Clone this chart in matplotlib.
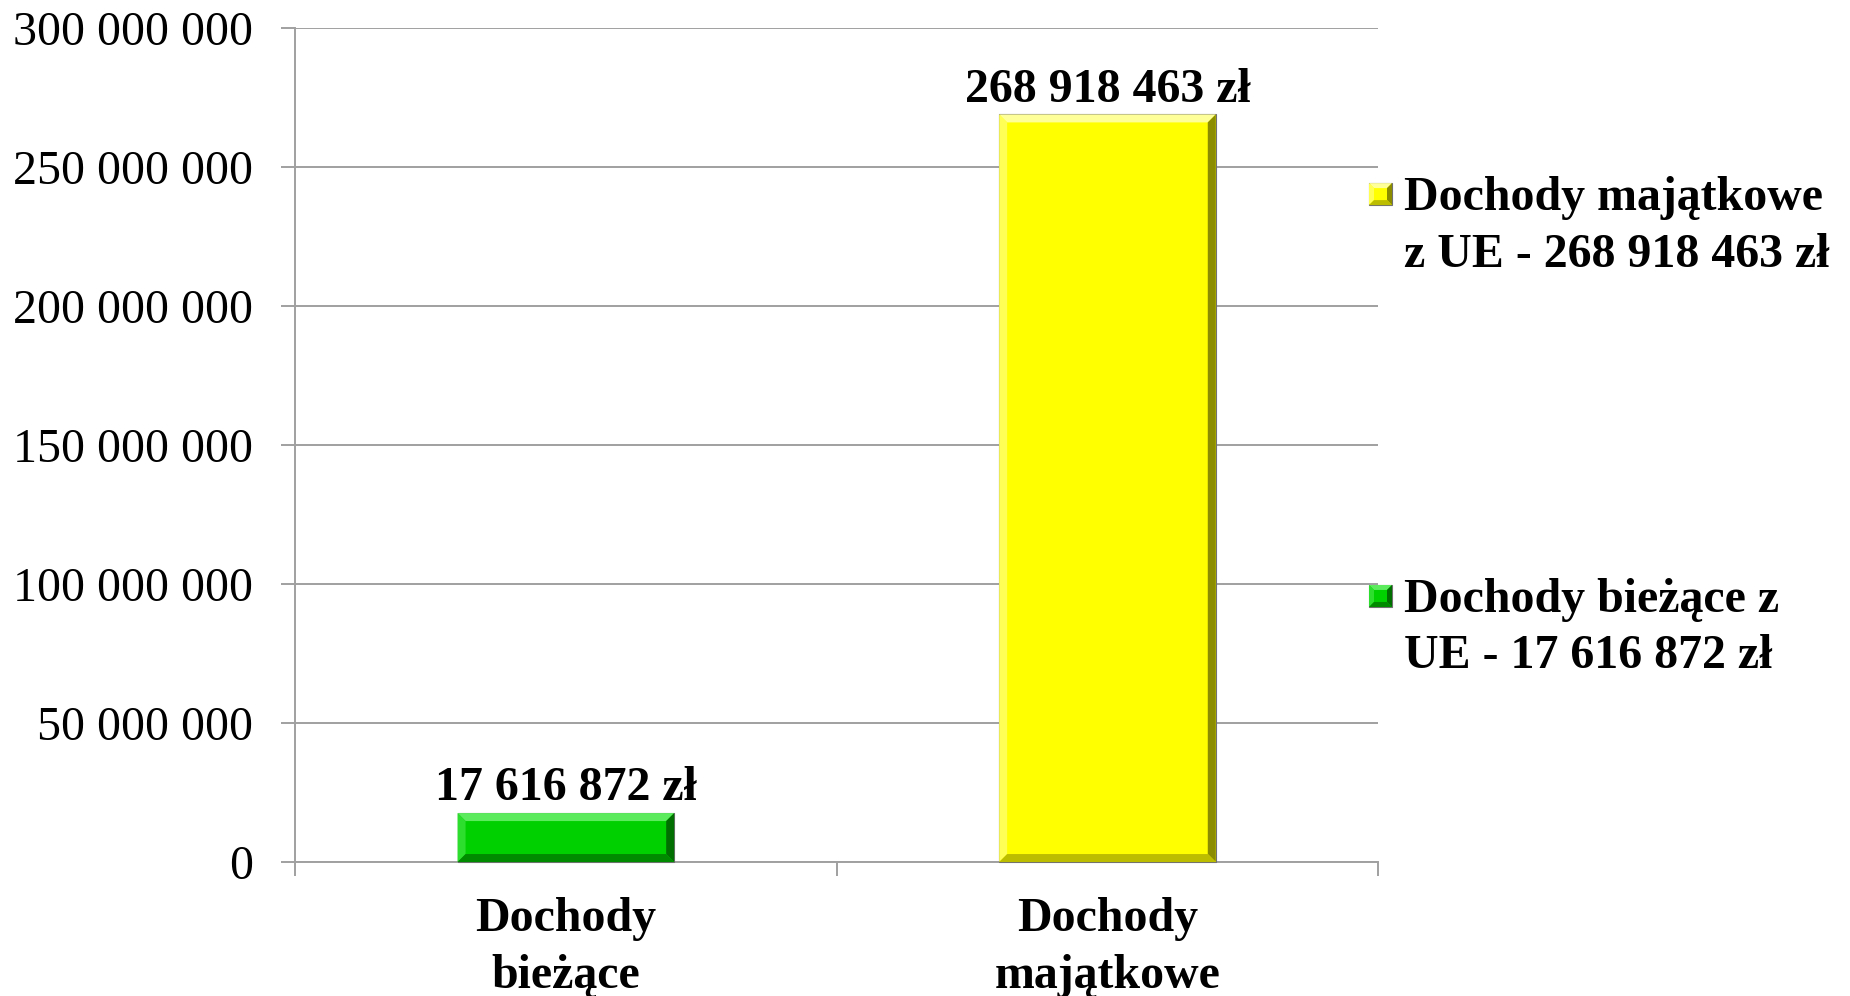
import matplotlib
matplotlib.use("Agg")
from matplotlib import pyplot as plt
from matplotlib.patches import Polygon
from matplotlib.transforms import IdentityTransform

categories = ["Dochody\nbieżące", "Dochody\nmajątkowe"]
series_names = ["Dochody bieżące", "Dochody majątkowe"]
values = [17616872, 268918463]
colors = ["#00D000", "#FFFF00"]
y_ticks = [0, 50000000, 100000000, 150000000, 200000000, 250000000, 300000000]

# bevel shades: top, left, right, bottom
shades = {
    "#00D000": ("#5CEB5C", "#2EDE2E", "#006E00", "#008A00"),
    "#FFFF00": ("#FFFF9A", "#FFFF55", "#8C8C00", "#BDBD00"),
}


def pl(v):
    return f"{v:,}".replace(",", " ")


def wrap_two(text, width=17):
    words = text.split(" ")
    first = []
    while words and len(" ".join(first + [words[0]])) <= width:
        first.append(words.pop(0))
    return " ".join(first) + "\n" + " ".join(words)


def bevel(fig, x0, y0, x1, y1, color, b):
    top, left, right, bottom = shades[color]
    # corners in display pixels (y up)
    fig.add_artist(Polygon([(x0, y0), (x1, y0), (x1, y1), (x0, y1)], closed=True,
                           facecolor=color, edgecolor="#707070", lw=0.8,
                           transform=IdentityTransform()))
    pieces = [
        ([(x0, y1), (x1, y1), (x1 - b, y1 - b), (x0 + b, y1 - b)], top),
        ([(x0, y0), (x0, y1), (x0 + b, y1 - b), (x0 + b, y0 + b)], left),
        ([(x1, y0), (x1, y1), (x1 - b, y1 - b), (x1 - b, y0 + b)], right),
        ([(x0, y0), (x1, y0), (x1 - b, y0 + b), (x0 + b, y0 + b)], bottom),
    ]
    for pts, c in pieces:
        fig.add_artist(Polygon(pts, closed=True, facecolor=c, edgecolor="none",
                               transform=IdentityTransform()))


plt.rcParams["font.family"] = ["Liberation Serif", "DejaVu Serif"]

fig = plt.figure(figsize=(18.5, 9.96), dpi=100)
ax = fig.add_axes([0.1595, 0.1345, 0.745 - 0.1595, 0.9719 - 0.1345])

x = list(range(len(categories)))
bars = ax.bar(x, values, width=0.40, color="none", edgecolor="none", zorder=3)
ax.set_xlim(-0.5, len(categories) - 0.5)
ax.set_ylim(0, 300000000)

ax.set_yticks(y_ticks)
ax.set_yticklabels([pl(v) for v in y_ticks], fontsize=34.5)
ax.yaxis.grid(True, color="#A0A0A0", lw=1.4, zorder=0)
ax.tick_params(axis="y", length=10, width=1.4, color="#A0A0A0", pad=20)

ax.set_xticks(x)
ax.set_xticklabels(categories, fontsize=34.5, fontweight="bold", linespacing=1.38)
ax.set_xticks([i - 0.5 for i in range(len(categories) + 1)], minor=True)
ax.tick_params(axis="x", which="major", length=0, pad=25)
ax.tick_params(axis="x", which="minor", length=10, width=1.4, color="#A0A0A0")

for s in ["top", "right"]:
    ax.spines[s].set_visible(False)
for s in ["left", "bottom"]:
    ax.spines[s].set_color("#A0A0A0")
    ax.spines[s].set_linewidth(1.4)

# bevelled bars drawn in pixel space from the bar geometry
for rect, col, v in zip(bars, colors, values):
    (px0, py0) = ax.transData.transform((rect.get_x(), 0))
    (px1, py1) = ax.transData.transform((rect.get_x() + rect.get_width(), v))
    bevel(fig, px0, py0, px1, py1, col, 8)
    ax.annotate(pl(v) + " zł", (rect.get_x() + rect.get_width() / 2, v),
                xytext=(0, 2), textcoords="offset points", ha="center",
                va="bottom", fontsize=34.5, fontweight="bold")

# legend, reversed order like the original
leg_y = [0.773, 0.3695]
for name, v, col, yy in zip(series_names[::-1], values[::-1], colors[::-1], leg_y):
    label = wrap_two(f"{name} z UE - {pl(v)} zł")
    t = fig.text(1404 / 1850, yy, label, fontsize=34.5, fontweight="bold",
                 ha="left", va="center", linespacing=1.38)
    cy = yy * 996 + 32
    bevel(fig, 1369, cy - 11, 1392, cy + 11, col, 5)

fig.savefig("out.png", dpi=100)
